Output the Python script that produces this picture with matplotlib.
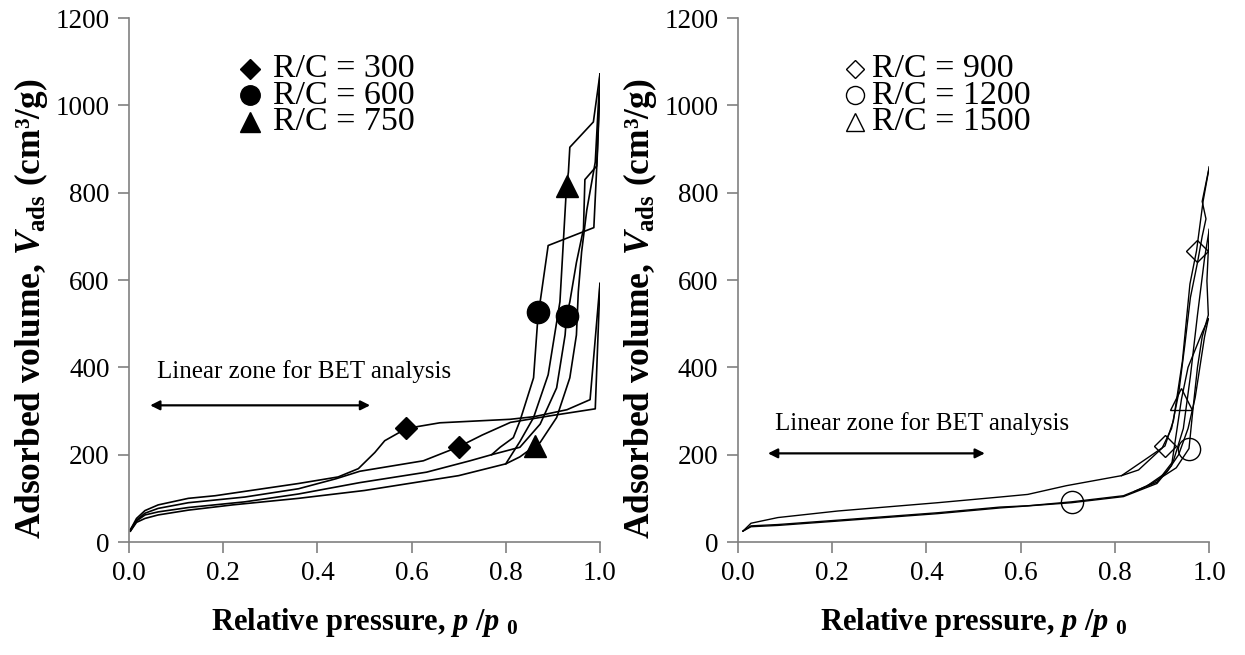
import matplotlib
matplotlib.use("Agg")
import matplotlib.pyplot as plt
from matplotlib.ticker import FormatStrFormatter, MultipleLocator

plt.rcParams['font.family'] = ['Liberation Serif', 'DejaVu Serif']
plt.rcParams['mathtext.fontset'] = 'custom'
plt.rcParams['mathtext.rm'] = 'Liberation Serif:bold'
plt.rcParams['mathtext.it'] = 'Liberation Serif:italic:bold'
plt.rcParams['mathtext.bf'] = 'Liberation Serif:bold'

# N2 isotherms, left panel: R/C = 300, 600, 750 (adsorption / desorption branches)
rc300_ads_x = [0.003, 0.016, 0.034, 0.062, 0.126, 0.246, 0.36, 0.44, 0.49, 0.625, 0.70, 0.75, 0.81, 0.894, 0.99, 1.0]
rc300_ads_y = [28, 50, 66, 77, 90, 103, 122, 145, 162, 186, 218, 245, 274, 289, 305, 592]
rc300_des_x = [1.0, 0.979, 0.93, 0.86, 0.809, 0.66, 0.589, 0.543, 0.522, 0.487, 0.444, 0.36, 0.246, 0.183, 0.126, 0.062, 0.034, 0.016, 0.003]
rc300_des_y = [592, 326, 303, 287, 281, 273, 260, 232, 205, 168, 149, 134, 116, 106, 100, 85, 72, 54, 28]

rc600_ads_x = [0.003, 0.016, 0.034, 0.062, 0.126, 0.246, 0.36, 0.49, 0.632, 0.724, 0.77, 0.83, 0.873, 0.908, 0.926, 0.929, 0.936, 0.95, 0.965, 0.968, 0.993, 1.0]
rc600_ads_y = [25, 48, 62, 69, 79, 92, 110, 136, 160, 186, 200, 217, 270, 353, 474, 518, 550, 640, 717, 830, 861, 1050]
rc600_des_x = [1.0, 0.995, 0.987, 0.89, 0.873, 0.869, 0.859, 0.83, 0.816, 0.788, 0.77]
rc600_des_y = [1050, 900, 720, 679, 550, 526, 376, 277, 239, 217, 200]

rc750_ads_x = [0.003, 0.016, 0.034, 0.062, 0.126, 0.22, 0.36, 0.5, 0.70, 0.80, 0.83, 0.862, 0.873, 0.908, 0.936, 0.95, 0.954, 0.961, 0.972, 0.99, 1.0]
rc750_ads_y = [25, 45, 54, 62, 73, 85, 100, 118, 152, 179, 195, 220, 228, 285, 376, 474, 573, 664, 760, 870, 1072]
rc750_des_x = [1.0, 0.986, 0.936, 0.933, 0.929, 0.915, 0.89, 0.859, 0.83, 0.80]
rc750_des_y = [1072, 962, 904, 847, 815, 550, 383, 285, 230, 179]

# marker positions on the branches
rc300_mark_x = [0.589, 0.70]
rc300_mark_y = [260, 218]
rc600_mark_x = [0.869, 0.929]
rc600_mark_y = [526, 518]
rc750_mark_x = [0.929, 0.862]
rc750_mark_y = [815, 220]

# right panel: R/C = 900, 1200, 1500
rc900_ads_x = [0.011, 0.028, 0.085, 0.212, 0.424, 0.556, 0.615, 0.697, 0.814, 0.871, 0.906, 0.924, 0.943, 0.959, 0.973, 0.987, 1.0]
rc900_ads_y = [25, 43, 56, 71, 90, 103, 109, 129, 152, 194, 220, 278, 414, 591, 667, 781, 859]
rc900_des_x = [1.0, 0.985, 0.993, 0.985, 0.975, 0.96, 0.948, 0.935, 0.92, 0.90, 0.88, 0.85, 0.814]
rc900_des_y = [859, 780, 740, 700, 640, 560, 450, 340, 260, 215, 195, 165, 152]

rc1200_ads_x = [0.011, 0.028, 0.085, 0.212, 0.424, 0.556, 0.615, 0.708, 0.818, 0.889, 0.924, 0.945, 0.96, 0.975, 0.99, 1.0]
rc1200_ads_y = [25, 37, 40, 50, 67, 80, 83, 92, 106, 137, 186, 260, 380, 520, 650, 716]
rc1200_des_x = [1.0, 0.995, 0.998, 0.985, 0.975, 0.965, 0.957, 0.93, 0.88, 0.84]
rc1200_des_y = [716, 598, 520, 470, 400, 300, 214, 170, 135, 115]

rc1500_ads_x = [0.011, 0.028, 0.085, 0.212, 0.424, 0.556, 0.708, 0.818, 0.889, 0.92, 0.941, 0.955, 0.97, 0.985, 0.998]
rc1500_ads_y = [25, 35, 38, 48, 65, 78, 90, 104, 134, 175, 327, 400, 440, 480, 511]
rc1500_des_x = [0.998, 0.99, 0.98, 0.97, 0.955, 0.935, 0.91, 0.87]
rc1500_des_y = [511, 470, 400, 330, 260, 200, 160, 130]

rc900_mark_x = [0.973, 0.906]
rc900_mark_y = [667, 220]
rc1200_mark_x = [0.957, 0.708]
rc1200_mark_y = [214, 92]
rc1500_mark_x = [0.941]
rc1500_mark_y = [327]

left_labels = ['R/C = 300', 'R/C = 600', 'R/C = 750']
right_labels = ['R/C = 900', 'R/C = 1200', 'R/C = 1500']
markers = ['D', 'o', '^']
marker_sizes = [11, 16, 16]
legend_sizes = [10, 14, 14]

fig = plt.figure(figsize=(12.45, 6.55), dpi=100)
ax1 = fig.add_axes([0.1036, 0.1725, 0.3783, 0.80])
ax2 = fig.add_axes([0.5926, 0.1725, 0.3787, 0.80])

# left panel curves
for xs, ys in [(rc300_ads_x, rc300_ads_y), (rc300_des_x, rc300_des_y),
               (rc600_ads_x, rc600_ads_y), (rc600_des_x, rc600_des_y),
               (rc750_ads_x, rc750_ads_y), (rc750_des_x, rc750_des_y)]:
    ax1.plot(xs, ys, color='black', lw=1.2)

for (mx, my), m, ms in zip([(rc300_mark_x, rc300_mark_y), (rc600_mark_x, rc600_mark_y),
                            (rc750_mark_x, rc750_mark_y)], markers, marker_sizes):
    ax1.plot(mx, my, ls='none', marker=m, ms=ms, color='black', zorder=3)

# right panel curves
for xs, ys in [(rc900_ads_x, rc900_ads_y), (rc900_des_x, rc900_des_y),
               (rc1200_ads_x, rc1200_ads_y), (rc1200_des_x, rc1200_des_y),
               (rc1500_ads_x, rc1500_ads_y), (rc1500_des_x, rc1500_des_y)]:
    ax2.plot(xs, ys, color='black', lw=1.0)

for (mx, my), m, ms in zip([(rc900_mark_x, rc900_mark_y), (rc1200_mark_x, rc1200_mark_y),
                            (rc1500_mark_x, rc1500_mark_y)], markers, marker_sizes):
    ax2.plot(mx, my, ls='none', marker=m, ms=ms, mfc='none', mec='black', mew=1.0, zorder=3)

# legends written as marker + text rows
for i, lab in enumerate(left_labels):
    yy = 0.903 - 0.0505 * i
    ax1.plot([0.257], [yy], transform=ax1.transAxes, marker=markers[i],
             ms=legend_sizes[i], color='black', ls='none', clip_on=False)
    ax1.text(0.305, yy, lab, transform=ax1.transAxes, fontsize=24.5, va='center', ha='left')

for i, lab in enumerate(right_labels):
    yy = 0.903 - 0.0505 * i
    ax2.plot([0.249], [yy], transform=ax2.transAxes, marker=markers[i],
             ms=legend_sizes[i] - 1, mfc='none', mec='black', mew=1.0, ls='none', clip_on=False)
    ax2.text(0.284, yy, lab, transform=ax2.transAxes, fontsize=24.5, va='center', ha='left')

# BET range arrows
ax1.annotate('', xy=(0.045, 313), xytext=(0.512, 313),
             arrowprops=dict(arrowstyle='<|-|>', color='black', lw=1.6, mutation_scale=14,
                             shrinkA=0, shrinkB=0))
ax1.text(0.06, 391, 'Linear zone for BET analysis', fontsize=18, va='center', ha='left')
ax2.annotate('', xy=(0.064, 203), xytext=(0.524, 203),
             arrowprops=dict(arrowstyle='<|-|>', color='black', lw=1.6, mutation_scale=14,
                             shrinkA=0, shrinkB=0))
ax2.text(0.079, 271, 'Linear zone for BET analysis', fontsize=18, va='center', ha='left')

for ax in (ax1, ax2):
    ax.set_xlim(0, 1.0)
    ax.set_ylim(0, 1200)
    ax.xaxis.set_major_locator(MultipleLocator(0.2))
    ax.xaxis.set_major_formatter(FormatStrFormatter('%.1f'))
    ax.yaxis.set_major_locator(MultipleLocator(200))
    ax.spines['top'].set_visible(False)
    ax.spines['right'].set_visible(False)
    for s in ('left', 'bottom'):
        ax.spines[s].set_color('#808080')
        ax.spines[s].set_linewidth(1.2)
    ax.tick_params(direction='out', length=8, width=1.2, color='#808080',
                   labelsize=19.5, pad=6)
    ax.set_xlabel('Relative pressure, $p$ /$p$ ${}_{0}$', fontsize=22, fontweight='bold', labelpad=14)
    ax.set_ylabel('Adsorbed volume, $V_{\\mathrm{ads}}$ (cm³/g)', fontsize=25.5, fontweight='bold')
    ax.yaxis.set_label_coords(-0.168, 0.445)

fig.savefig('out.png', dpi=100)
plt.close(fig)
